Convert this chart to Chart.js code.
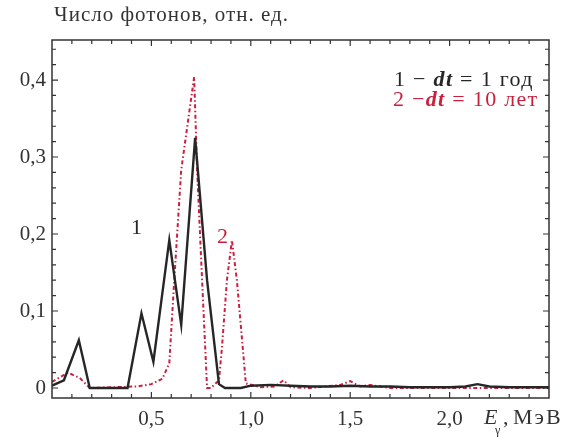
<!DOCTYPE html>
<html>
<head>
<meta charset="utf-8">
<script src="https://cdn.jsdelivr.net/npm/chart.js@4"></script>
<style>
  body { margin: 0; background: #fff; }
  canvas { display: block; }
</style>
</head>
<body>
<canvas id="chart" width="576" height="439"></canvas>
<script>
// curve 1: dt = 1 год
const energy1 = [0.0, 0.06, 0.135, 0.19, 0.38, 0.45, 0.51, 0.59, 0.65, 0.72, 0.78, 0.84, 0.87, 0.95, 1.0, 1.1, 1.2, 1.3, 1.4, 1.5, 1.6, 1.7, 1.8, 1.9, 2.0, 2.08, 2.14, 2.2, 2.3, 2.4, 2.5];
const photons1 = [0.003, 0.01, 0.062, 0.0, 0.0, 0.097, 0.034, 0.192, 0.082, 0.325, 0.14, 0.005, 0.0, 0.0, 0.003, 0.004, 0.003, 0.002, 0.002, 0.003, 0.002, 0.002, 0.001, 0.001, 0.001, 0.002, 0.005, 0.002, 0.001, 0.001, 0.001];

// curve 2: dt = 10 лет
const energy2 = [0.0, 0.08, 0.14, 0.19, 0.43, 0.5, 0.555, 0.59, 0.615, 0.65, 0.715, 0.73, 0.755, 0.78, 0.8, 0.84, 0.855, 0.88, 0.905, 0.93, 0.975, 1.05, 1.12, 1.165, 1.2, 1.3, 1.45, 1.5, 1.55, 1.6, 1.7, 2.0, 2.5];
const photons2 = [0.008, 0.02, 0.013, 0.0, 0.002, 0.005, 0.012, 0.032, 0.14, 0.283, 0.404, 0.283, 0.14, 0.0, 0.0, 0.01, 0.053, 0.14, 0.192, 0.14, 0.006, 0.001, 0.002, 0.01, 0.001, 0.0, 0.004, 0.009, 0.002, 0.004, 0.0, 0.0, 0.0];

const yTickValues = [0, 0.1, 0.2, 0.3, 0.4];
const yTickLabels = ["0", "0,1", "0,2", "0,3", "0,4"];
const xTickValues = [0.5, 1.0, 1.5, 2.0];
const xTickLabels = ["0,5", "1,0", "1,5", "2,0"];

const BLACK = "#262626";
const RED = "#c8203e";
const SERIF = "'Liberation Serif', 'DejaVu Serif', serif";

function toPoints(xs, ys) {
    return xs.map((x, i) => ({ x: x, y: ys[i] }));
}

// frame, inward ticks and free text
const decorations = {
    id: "decorations",
    afterDraw(chart) {
        const ctx = chart.ctx;
        const area = chart.chartArea;
        const xs = chart.scales.x;
        const ys = chart.scales.y;
        ctx.save();
        ctx.strokeStyle = "#333";
        ctx.lineWidth = 1.5;
        ctx.strokeRect(area.left, area.top, area.right - area.left, area.bottom - area.top);

        ctx.lineWidth = 1.2;
        ctx.beginPath();
        for (let i = 0; i <= 22; i++) {
            const py = ys.getPixelForValue(i * 0.02);
            const len = i % 5 === 0 ? 6 : 4;
            ctx.moveTo(area.left, py); ctx.lineTo(area.left + len, py);
            ctx.moveTo(area.right, py); ctx.lineTo(area.right - len, py);
        }
        for (let i = 1; i <= 24; i++) {
            const px = xs.getPixelForValue(i * 0.1);
            const len = i % 5 === 0 ? 6 : 4;
            ctx.moveTo(px, area.bottom); ctx.lineTo(px, area.bottom - len);
            ctx.moveTo(px, area.top); ctx.lineTo(px, area.top + len);
        }
        ctx.stroke();

        ctx.textBaseline = "middle";
        ctx.textAlign = "left";
        ctx.fillStyle = "#333";
        ctx.font = "21px " + SERIF;
        ctx.letterSpacing = "1px";
        ctx.fillText("Число фотонов, отн. ед.", 54, 15);

        // axis name
        const yb = 418;
        ctx.letterSpacing = "0px";
        ctx.font = "italic 22px " + SERIF;
        ctx.fillText("E", 484, yb);
        ctx.font = "12px " + SERIF;
        ctx.fillText("γ", 495, yb + 13);
        ctx.font = "22px " + SERIF;
        ctx.fillText(",", 503, yb);
        ctx.letterSpacing = "2px";
        ctx.fillText("МэВ", 513, yb);

        // legend text
        function legendLine(color, parts, px, py) {
            ctx.fillStyle = color;
            ctx.letterSpacing = "1.3px";
            parts.forEach(p => {
                ctx.font = (p.italic ? "italic bold " : "") + "22px " + SERIF;
                ctx.fillText(p.t, px, py);
                px += ctx.measureText(p.t).width;
            });
        }
        legendLine(BLACK, [{ t: "1 − " }, { t: "dt", italic: true }, { t: " = 1 год" }], 394, 80);
        legendLine(RED, [{ t: "2 −" }, { t: "dt", italic: true }, { t: " = 10 лет" }], 393, 100);

        // curve numbers
        ctx.letterSpacing = "0px";
        ctx.font = "22px " + SERIF;
        ctx.fillStyle = BLACK;
        ctx.fillText("1", 131, 228);
        ctx.fillStyle = RED;
        ctx.fillText("2", 217, 237);
        ctx.restore();
    }
};

new Chart(document.getElementById("chart"), {
    type: "line",
    data: {
        datasets: [
            {
                label: "1 − dt = 1 год",
                data: toPoints(energy1, photons1),
                borderColor: BLACK,
                borderWidth: 2.4,
                pointRadius: 0,
                tension: 0
            },
            {
                label: "2 − dt = 10 лет",
                data: toPoints(energy2, photons2),
                borderColor: RED,
                borderWidth: 2,
                borderDash: [4, 2.5, 1.5, 2.5],
                pointRadius: 0,
                tension: 0
            }
        ]
    },
    options: {
        responsive: false,
        animation: false,
        layout: { padding: { left: 0, right: 27, top: 40, bottom: 0 } },
        plugins: {
            legend: { display: false },
            tooltip: { enabled: false }
        },
        scales: {
            x: {
                type: "linear",
                min: 0,
                max: 2.5,
                grid: { display: false, drawTicks: false },
                border: { display: false },
                afterBuildTicks: s => { s.ticks = xTickValues.map(v => ({ value: v })); },
                afterFit: s => { s.height = 41; },
                ticks: {
                    padding: 9,
                    color: "#333",
                    font: { family: SERIF, size: 21 },
                    callback: (v) => xTickLabels[xTickValues.indexOf(v)]
                }
            },
            y: {
                min: -0.013,
                max: 0.452,
                grid: { display: false, drawTicks: false },
                border: { display: false },
                afterBuildTicks: s => { s.ticks = yTickValues.map(v => ({ value: v })); },
                afterFit: s => { s.width = 52; },
                ticks: {
                    padding: 6,
                    color: "#333",
                    font: { family: SERIF, size: 21 },
                    callback: (v) => yTickLabels[yTickValues.indexOf(v)]
                }
            }
        }
    },
    plugins: [decorations]
});
</script>
</body>
</html>
